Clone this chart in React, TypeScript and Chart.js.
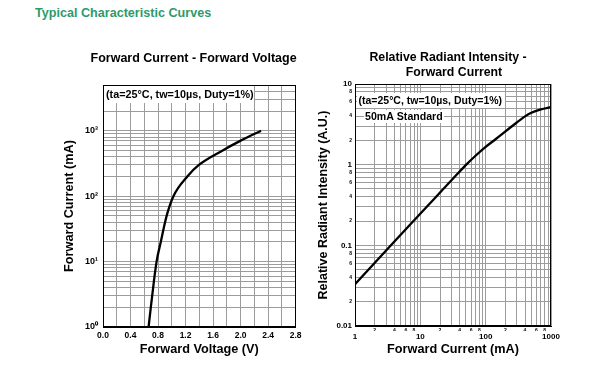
import React, { useEffect, useRef } from 'react';
import { Chart, registerables } from 'chart.js';

Chart.register(...registerables);

const FONT = '"Liberation Sans", Arial, Helvetica, sans-serif';
const GREEN = '#2e9a6c';
const GRID = '#9c9c9c';

// ---------- text ----------
const pageTitle = 'Typical Characteristic Curves';
const ivTitle = 'Forward Current - Forward Voltage';
const ivNote = '(ta=25°C, tw=10µs, Duty=1%)';
const ivXTitle = 'Forward Voltage (V)';
const ivYTitle = 'Forward Current (mA)';
const riTitle = ['Relative Radiant Intensity -', 'Forward Current'];
const riNote = '(ta=25°C, tw=10µs, Duty=1%)';
const riNote2 = '50mA Standard';
const riXTitle = 'Forward Current (mA)';
const riYTitle = 'Relative Radiant Intensity (A.U.)';

// ---------- Forward current vs forward voltage ----------
const ivVoltage = [0.663, 0.695, 0.74, 0.779, 0.84, 0.925, 1.024, 1.226, 1.394, 1.74, 1.995, 2.298];
const ivCurrent = [1, 2, 5, 10, 20, 50, 100, 200, 300, 500, 700, 1000];
const ivXMin = 0;
const ivXMax = 2.8;
const ivXStep = 0.2;
const ivXTickLabels = ['0.0', '0.4', '0.8', '1.2', '1.6', '2.0', '2.4', '2.8'];
const ivYMin = 1;
const ivYMax = 5000;
const ivYTickLabels = ['10⁰', '10¹', '10²', '10³'];

// ---------- Relative radiant intensity vs forward current ----------
const riCurrent = [1, 3.3, 7, 16.9, 35, 50, 70, 100, 140, 250, 405, 500, 700, 1000];
const riIntensity = [0.033, 0.094, 0.181, 0.389, 0.733, 0.993, 1.29, 1.66, 2.05, 2.97, 4.0, 4.4, 4.84, 5.17];
const riXMin = 1;
const riXMax = 1000;
const riXMajorLabels = ['1', '10', '100', '1000'];
const riYMin = 0.01;
const riYMax = 10;
const riYMajorLabels = ['0.01', '0.1', '1', '10'];
const minorSignificands = [2, 4, 6, 8];
const minorLabels = ['2', '4', '6', '8'];

// ---------- helpers ----------
function sigExp(v: number) {
  const e = Math.floor(Math.log10(v) + 1e-9);
  const s = Math.round(v / Math.pow(10, e));
  return { e, s };
}
function logGrid(min: number, max: number): number[] {
  const out: number[] = [];
  const e0 = Math.floor(Math.log10(min) + 1e-9);
  const e1 = Math.ceil(Math.log10(max) - 1e-9);
  for (let e = e0; e <= e1; e++) {
    for (let s = 1; s <= 9; s++) {
      const v = Number((s * Math.pow(10, e)).toPrecision(6));
      if (v >= min * (1 - 1e-9) && v <= max * (1 + 1e-9)) out.push(v);
    }
  }
  return out;
}
function linGrid(min: number, max: number, step: number): number[] {
  const out: number[] = [];
  const n = Math.round((max - min) / step);
  for (let i = 0; i <= n; i++) out.push(Number((min + i * step).toFixed(6)));
  return out;
}
function minorLabel(v: number): string {
  const { s } = sigExp(v);
  const i = minorSignificands.indexOf(s);
  return i >= 0 ? minorLabels[i] : '';
}
function majorLabel(v: number, min: number, labels: string[]): string {
  const { e, s } = sigExp(v);
  if (s !== 1) return '';
  const e0 = Math.floor(Math.log10(min) + 1e-9);
  return labels[e - e0] ?? '';
}

const f = (size: number, weight: string = 'bold') => ({ family: FONT, size, weight: weight as any, lineHeight: 1.2 });

type Deco = (ctx: CanvasRenderingContext2D, ca: any) => void;

function decoPlugin(id: string, deco: Deco) {
  return {
    id,
    afterDraw(chart: any) {
      const ctx: CanvasRenderingContext2D = chart.ctx;
      const ca = chart.chartArea;
      ctx.save();
      ctx.strokeStyle = '#000';
      ctx.lineWidth = 1;
      ctx.strokeRect(Math.round(ca.left) + 0.5, Math.round(ca.top) + 0.5, Math.round(ca.right - ca.left) - 1, Math.round(ca.bottom - ca.top) - 1);
      deco(ctx, ca);
      ctx.restore();
    },
  };
}

function noteBox(ctx: CanvasRenderingContext2D, text: string, font: string, x: number, y: number, bx: number, by: number, bw: number, bh: number) {
  ctx.fillStyle = '#fff';
  ctx.fillRect(bx, by, bw, bh);
  ctx.fillStyle = '#000';
  ctx.font = font;
  ctx.textAlign = 'left';
  ctx.textBaseline = 'middle';
  ctx.fillText(text, x, y);
}

export default function App() {
  const leftRef = useRef<HTMLCanvasElement>(null);
  const rightRef = useRef<HTMLCanvasElement>(null);

  useEffect(() => {
    const ivXGrid = linGrid(ivXMin, ivXMax, ivXStep);
    const ivYGrid = logGrid(ivYMin, ivYMax);
    const riXGrid = logGrid(riXMin, riXMax);
    const riYGrid = logGrid(riYMin, riYMax);

    const leftDeco = decoPlugin('ivDeco', (ctx, ca) => {
      ctx.fillStyle = '#000';
      ctx.font = `bold 12.5px ${FONT}`;
      ctx.textAlign = 'right';
      ctx.textBaseline = 'alphabetic';
      ctx.fillText(ivTitle, ca.right + 1, ca.top - 23);
      noteBox(ctx, ivNote, `bold 10.8px ${FONT}`, ca.left + 3, ca.top + 10, ca.left + 1, ca.top + 1, 150, 17);
    });

    const rightDeco = decoPlugin('riDeco', (ctx, ca) => {
      const cx = (ca.left + ca.right) / 2;
      ctx.fillStyle = '#000';
      ctx.font = `bold 12.3px ${FONT}`;
      ctx.textAlign = 'center';
      ctx.textBaseline = 'alphabetic';
      ctx.fillText(riTitle[0], cx - 5, ca.top - 23.5);
      ctx.fillText(riTitle[1], cx + 1, ca.top - 8);
      noteBox(ctx, riNote, `bold 10.5px ${FONT}`, ca.left + 3.5, ca.top + 17, ca.left + 2, ca.top + 9, 148, 15);
      noteBox(ctx, riNote2, `bold 10.6px ${FONT}`, ca.left + 10, ca.top + 32.7, ca.left + 9, ca.top + 26, 80, 13);
    });

    const c1 = new Chart(leftRef.current as HTMLCanvasElement, {
      type: 'scatter',
      data: {
        datasets: [
          {
            data: ivVoltage.map((v, i) => ({ x: v, y: ivCurrent[i] })),
            showLine: true,
            borderColor: '#000',
            borderWidth: 2.3,
            pointRadius: 0,
            cubicInterpolationMode: 'monotone',
            fill: false,
          } as any,
        ],
      },
      options: {
        animation: false,
        responsive: false,
        devicePixelRatio: 1,
        layout: { padding: { top: 45, right: 7, left: 0, bottom: 0 } },
        plugins: { legend: { display: false }, tooltip: { enabled: false }, title: { display: false } },
        scales: {
          x: {
            type: 'linear',
            min: ivXMin,
            max: ivXMax,
            afterBuildTicks: (s: any) => { s.ticks = ivXGrid.map((v) => ({ value: v })); },
            afterFit: (s: any) => { s.height = 38; },
            grid: { color: GRID, lineWidth: 1, drawTicks: false },
            border: { display: true, color: '#000' },
            ticks: {
              autoSkip: false,
              maxRotation: 0,
              padding: 3.5,
              color: '#000',
              font: f(8.5),
              callback: (v: any) => {
                const i = Math.round((Number(v) - ivXMin) / ivXStep);
                return i % 2 === 0 ? ivXTickLabels[i / 2] ?? '' : '';
              },
            },
            title: { display: true, text: ivXTitle, color: '#000', font: f(12.7), padding: { top: 0, bottom: 7.4 } },
          },
          y: {
            type: 'logarithmic',
            min: ivYMin,
            max: ivYMax,
            afterBuildTicks: (s: any) => { s.ticks = ivYGrid.map((v) => ({ value: v })); },
            afterFit: (s: any) => { s.width = 63; },
            grid: { color: GRID, lineWidth: 1, drawTicks: false },
            border: { display: true, color: '#000' },
            ticks: {
              autoSkip: false,
              padding: 5,
              color: '#000',
              font: f(9),
              callback: (v: any) => majorLabel(Number(v), ivYMin, ivYTickLabels),
            },
            title: { display: true, text: ivYTitle, color: '#000', font: f(12.7), padding: { top: 21.9, bottom: 0 } },
          },
        },
      } as any,
      plugins: [leftDeco],
    });

    const c2 = new Chart(rightRef.current as HTMLCanvasElement, {
      type: 'scatter',
      data: {
        datasets: [
          {
            data: riCurrent.map((v, i) => ({ x: v, y: riIntensity[i] })),
            showLine: true,
            borderColor: '#000',
            borderWidth: 2.3,
            pointRadius: 0,
            cubicInterpolationMode: 'monotone',
            fill: false,
          } as any,
        ],
      },
      options: {
        animation: false,
        responsive: false,
        devicePixelRatio: 1,
        layout: { padding: { top: 44, right: 41, left: 0, bottom: 0 } },
        plugins: { legend: { display: false }, tooltip: { enabled: false }, title: { display: false } },
        scales: {
          x: {
            type: 'logarithmic',
            position: 'bottom',
            weight: 0,
            min: riXMin,
            max: riXMax,
            afterBuildTicks: (s: any) => { s.ticks = riXGrid.map((v) => ({ value: v })); },
            afterFit: (s: any) => { s.height = 5; },
            grid: { color: GRID, lineWidth: 1, drawTicks: false },
            border: { display: true, color: '#000' },
            ticks: {
              autoSkip: false,
              maxRotation: 0,
              padding: 1.5,
              color: '#000',
              font: f(5),
              callback: (v: any) => minorLabel(Number(v)),
            },
          },
          x2: {
            type: 'logarithmic',
            position: 'bottom',
            weight: 1,
            min: riXMin,
            max: riXMax,
            afterBuildTicks: (s: any) => { s.ticks = riXGrid.filter((v) => sigExp(v).s === 1).map((v) => ({ value: v })); },
            afterFit: (s: any) => { s.height = 34; },
            grid: { display: false, drawTicks: false },
            border: { display: false },
            ticks: {
              autoSkip: false,
              maxRotation: 0,
              padding: 0.7,
              color: '#000',
              font: f(8),
              callback: (v: any) => majorLabel(Number(v), riXMin, riXMajorLabels),
            },
            title: { display: true, text: riXTitle, color: '#000', font: f(12.7), padding: { top: 0, bottom: 7.4 } },
          },
          y: {
            type: 'logarithmic',
            min: riYMin,
            max: riYMax,
            afterBuildTicks: (s: any) => { s.ticks = riYGrid.map((v) => ({ value: v })); },
            afterFit: (s: any) => { s.width = 50; },
            grid: { color: GRID, lineWidth: 1, drawTicks: false },
            border: { display: true, color: '#000' },
            ticks: {
              autoSkip: false,
              padding: 3,
              color: '#000',
              font: (ctx: any) => (ctx.tick && sigExp(ctx.tick.value).s === 1 ? f(8) : f(5)),
              callback: (v: any) => {
                const n = Number(v);
                return sigExp(n).s === 1 ? majorLabel(n, riYMin, riYMajorLabels) : minorLabel(n);
              },
            },
            title: { display: true, text: riYTitle, color: '#000', font: f(12.5), padding: { top: 11.4, bottom: 0 } },
          },
        },
      } as any,
      plugins: [rightDeco],
    });

    return () => {
      c1.destroy();
      c2.destroy();
    };
  }, []);

  return (
    <div style={{ position: 'absolute', left: 0, top: 0, width: 592, height: 381, background: '#fff', overflow: 'hidden' }}>
      <div
        style={{
          position: 'absolute',
          left: 35,
          top: 6.4,
          font: `bold 12.6px ${FONT}`,
          lineHeight: '15px',
          color: GREEN,
          whiteSpace: 'nowrap',
        }}
      >
        {pageTitle}
      </div>
      <canvas ref={leftRef} width={265} height={325} style={{ position: 'absolute', left: 40, top: 40, width: 265, height: 325 }} />
      <canvas ref={rightRef} width={287} height={325} style={{ position: 'absolute', left: 305, top: 40, width: 287, height: 325 }} />
    </div>
  );
}
